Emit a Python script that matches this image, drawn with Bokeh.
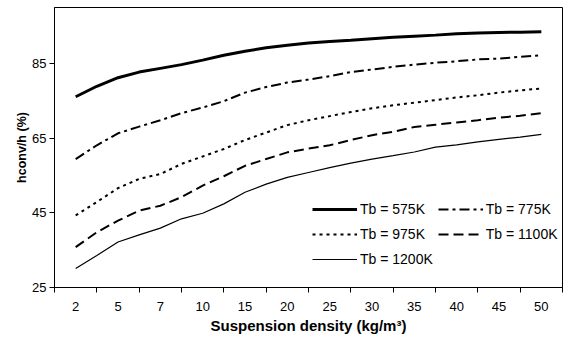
import numpy as np
from bokeh.plotting import figure
from bokeh.models import Range1d, FixedTicker, Legend, LegendItem
from bokeh.embed import file_html
from bokeh.resources import INLINE

# ---- data ----
tick_labels = ["2", "5", "7", "10", "15", "20", "25", "30", "35", "40", "45", "50"]
tick_values = [2, 5, 7, 10, 15, 20, 25, 30, 35, 40, 45, 50]
density = [2, 3.5, 5, 6, 7, 8.5, 10, 12.5, 15, 17.5, 20, 22.5, 25, 27.5, 30,
           32.5, 35, 37.5, 40, 42.5, 45, 47.5, 50]
tb_575 = [76.1, 78.9, 81.2, 82.7, 83.7, 84.7, 85.9, 87.2, 88.3, 89.2, 89.9, 90.5,
          90.9, 91.2, 91.6, 92.0, 92.3, 92.6, 93.0, 93.2, 93.3, 93.4, 93.5]
tb_775 = [59.4, 63.1, 66.3, 68.1, 69.8, 71.7, 73.2, 74.9, 77.2, 78.7, 79.9, 80.7,
          81.6, 82.7, 83.4, 84.1, 84.7, 85.2, 85.6, 86.1, 86.3, 86.8, 87.2]
tb_975 = [44.3, 47.9, 51.6, 54.1, 55.4, 58.1, 60.1, 62.1, 64.5, 66.5, 68.5, 69.8,
          70.9, 72.0, 73.0, 73.8, 74.5, 75.2, 75.9, 76.5, 77.2, 77.8, 78.3]
tb_1100 = [35.8, 39.8, 42.9, 45.6, 46.9, 49.2, 52.3, 54.8, 57.6, 59.4, 61.2, 62.2,
           63.1, 64.5, 65.8, 66.7, 68.0, 68.6, 69.2, 69.8, 70.5, 71.0, 71.7]
tb_1200 = [30.1, 33.6, 37.2, 39.1, 40.9, 43.4, 44.9, 47.4, 50.5, 52.7, 54.5, 55.8,
           57.1, 58.3, 59.4, 60.3, 61.3, 62.6, 63.2, 64.0, 64.7, 65.3, 66.0]
y_ticks = [25, 45, 65, 85]

# category-axis positions
cat_idx = list(range(len(tick_labels)))
xpos = np.interp(density, tick_values, cat_idx)

FONT = "Liberation Sans"

p = figure(width=563, height=336, output_backend="svg", toolbar_location=None,
           x_range=Range1d(-0.5, len(tick_labels) - 0.5), y_range=Range1d(25, 100),
           min_border_left=54, min_border_right=1, min_border_top=7, min_border_bottom=47)
p.background_fill_color = "white"
p.border_fill_color = "white"
p.outline_line_color = "black"
p.outline_line_width = 1
p.xgrid.grid_line_color = None
p.ygrid.grid_line_color = None

# x axis: labels at category centres, tick marks between categories
p.xaxis.ticker = FixedTicker(ticks=cat_idx,
                             minor_ticks=[i - 0.5 for i in range(len(tick_labels) + 1)])
p.xaxis.major_label_overrides = {i: t for i, t in zip(cat_idx, tick_labels)}
p.xaxis.major_tick_out = 5
p.xaxis.major_tick_in = 0
p.xaxis.minor_tick_line_color = "black"
p.xaxis.minor_tick_out = 5
p.xaxis.minor_tick_in = 0
p.xaxis.major_label_standoff = 9
p.xaxis.axis_label = "Suspension density (kg/m\u00b3)"
p.xaxis.axis_label_standoff = 3

p.yaxis.ticker = FixedTicker(ticks=y_ticks)
p.yaxis.minor_tick_line_color = None
p.yaxis.major_tick_out = 5
p.yaxis.major_tick_in = 0
p.yaxis.major_label_standoff = 3
p.yaxis.axis_label = "hconv/h (%)"
p.yaxis.axis_label_standoff = 0

for ax in (p.xaxis, p.yaxis):
    ax.axis_line_color = "black"
    ax.major_label_text_font = FONT
    ax.major_label_text_font_size = "13px"
    ax.major_label_text_color = "black"
    ax.axis_label_text_font = FONT
    ax.axis_label_text_font_style = "bold"
    ax.axis_label_text_color = "black"
p.xaxis.major_tick_line_color = None
p.yaxis.major_tick_line_color = "black"
p.xaxis.axis_label_text_font_size = "15px"
p.yaxis.axis_label_text_font_size = "12.5px"

r575 = p.line(xpos, tb_575, line_color="black", line_width=3)
r775 = p.line(xpos, tb_775, line_color="black", line_width=2, line_dash="10 4 3 4")
r975 = p.line(xpos, tb_975, line_color="black", line_width=2, line_dash="3 4")
r1100 = p.line(xpos, tb_1100, line_color="black", line_width=2, line_dash="10 5")
r1200 = p.line(xpos, tb_1200, line_color="black", line_width=1.2)

legend = Legend(items=[
    LegendItem(label="Tb = 575K", renderers=[r575]),
    LegendItem(label="Tb = 775K", renderers=[r775]),
    LegendItem(label="Tb = 975K", renderers=[r975]),
    LegendItem(label="Tb = 1100K", renderers=[r1100]),
    LegendItem(label="Tb = 1200K", renderers=[r1200]),
], orientation="horizontal", ncols=2, location=(258, 18))
legend.padding = 0
legend.margin = 0
legend.spacing = 5
legend.glyph_width = 45
legend.glyph_height = 20
legend.label_height = 20
legend.label_standoff = 3
legend.label_text_font = FONT
legend.label_text_font_size = "14px"
legend.label_text_color = "black"
legend.border_line_color = None
legend.background_fill_alpha = 0
p.add_layout(legend, "center")

open("out.html", "w").write(file_html(p, INLINE))
